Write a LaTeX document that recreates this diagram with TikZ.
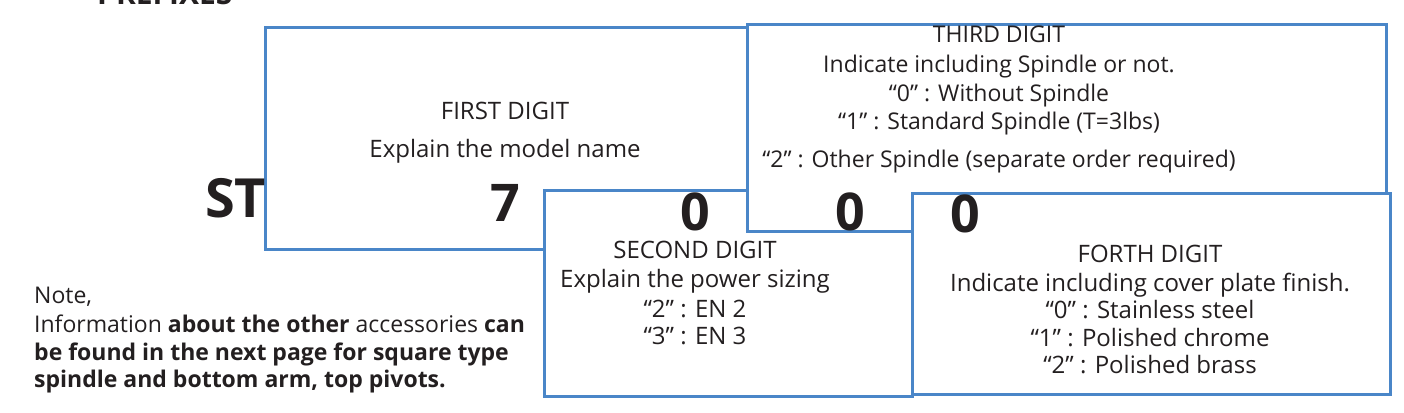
\documentclass[tikz,border=0pt]{standalone}
\usepackage{fontspec}
\setmainfont{Open Sans}
\definecolor{boxblue}{RGB}{74,134,200}
\definecolor{ink}{RGB}{35,31,32}
\begin{document}
\begin{tikzpicture}[x=1pt,y=-1pt,
  box/.style={draw=boxblue, line width=2.6pt, fill=white, rectangle, inner sep=0pt, anchor=north west},
  txt/.style={anchor=base, font=\fontsize{24}{28}\selectfont, inner sep=0pt, text=ink},
  txtsm/.style={anchor=base, font=\fontsize{23}{28}\selectfont, inner sep=0pt, text=ink},
  notetxt/.style={anchor=base west, font=\fontsize{23}{28}\selectfont, inner sep=0pt, text=ink},
  big/.style={anchor=base, font=\fontsize{52}{60}\selectfont\bfseries, inner sep=0pt, text=ink}]
\useasboundingbox (0,0) rectangle (1404,412);
\begin{scope}
\clip (0,0) rectangle (1404,412);
\node[anchor=base west, inner sep=0pt, text=ink, font=\fontsize{30}{34}\selectfont\bfseries] (pref) at (97,5) {PREFIXES};
\end{scope}
% boxes
\node[box, minimum width=536pt, minimum height=222pt] (b1) at (264,26) {};
\node[box, minimum width=368pt, minimum height=206pt] (b2) at (543,189) {};
\node[box, minimum width=639pt, minimum height=207pt] (b3) at (746,23) {};
\node[box, minimum width=478pt, minimum height=201pt] (b4) at (911,192) {};
% prefix
\node[anchor=base west, inner sep=0pt, text=ink, font=\fontsize{54}{60}\selectfont\bfseries] (st) at (205,217) {ST};
% digits
\node[big] (d1) at (505,221) {7};
\node[big] (d2) at (695,230) {0};
\node[big] (d3) at (850,230) {0};
\node[big] (d4) at (965,232) {0};
% box 1
\node[txt] (t1a) at (505,119) {FIRST DIGIT};
\node[txt] (t1b) at (505,157) {Explain the model name};
% box 2
\node[txt] (t2a) at (695,258) {SECOND DIGIT};
\node[txt] (t2b) at (695,287) {Explain the power sizing};
\node[txt] (t2c) at (695,317) {“2” : EN 2};
\node[txt] (t2d) at (695,344) {“3” : EN 3};
% box 3
\node[txtsm] (t3a) at (999,43) {THIRD DIGIT};
\node[txtsm] (t3b) at (999,73) {Indicate including Spindle or not.};
\node[txtsm] (t3c) at (999,101) {“0” : Without Spindle};
\node[txtsm] (t3d) at (999,129) {“1” : Standard Spindle (T=3lbs)};
\node[txtsm] (t3e) at (999,167) {“2” : Other Spindle (separate order required)};
% box 4
\node[txt] (t4a) at (1150,262) {FORTH DIGIT};
\node[txt] (t4b) at (1150,291) {Indicate including cover plate finish.};
\node[txt] (t4c) at (1150,318) {“0” : Stainless steel};
\node[txt] (t4d) at (1150,346) {“1” : Polished chrome};
\node[txt] (t4e) at (1150,373) {“2” : Polished brass};
% note
\node[notetxt] (n1) at (34,303) {Note,};
\node[notetxt] (n2) at (34,332) {Information \textbf{about the other} accessories \textbf{can}};
\node[notetxt] (n3) at (34,360) {\textbf{be found in the next page for square type}};
\node[notetxt] (n4) at (34,387) {\textbf{spindle and bottom arm, top pivots.}};
\end{tikzpicture}
\end{document}
